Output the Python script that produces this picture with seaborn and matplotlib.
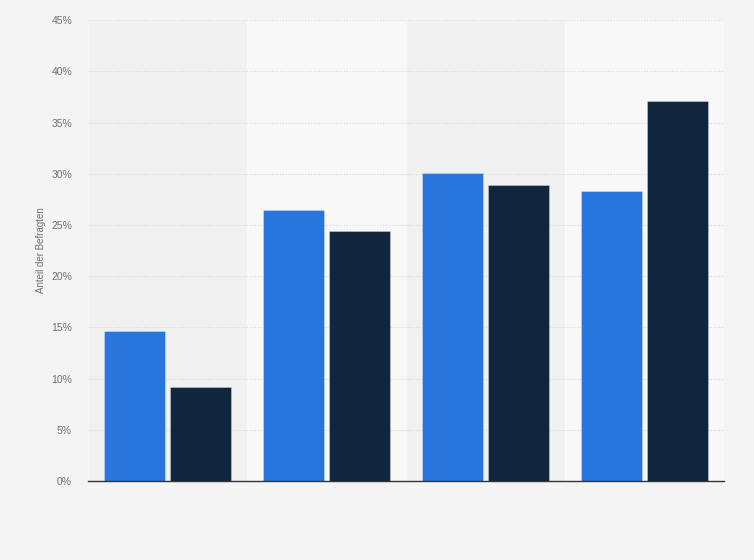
import matplotlib
matplotlib.use("Agg")
import matplotlib.pyplot as plt
import pandas as pd
import seaborn as sns
from matplotlib.ticker import FuncFormatter

# categories are not labelled in the chart
categories = ["Gruppe 1", "Gruppe 2", "Gruppe 3", "Gruppe 4"]
series_names = ["Serie A", "Serie B"]
series_a = [14.6, 26.5, 30.1, 28.3]
series_b = [9.2, 24.4, 28.9, 37.1]
y_ticks = [0, 5, 10, 15, 20, 25, 30, 35, 40, 45]

df = pd.DataFrame({
    "Kategorie": categories * 2,
    "Serie": [series_names[0]] * 4 + [series_names[1]] * 4,
    "Wert": series_a + series_b,
})

sns.set_style("white")
plt.rcParams["font.family"] = ["Liberation Sans", "DejaVu Sans"]

fig = plt.figure(figsize=(7.54, 5.6), dpi=100, facecolor="#f4f4f4")
ax = fig.add_axes([0.1167, 0.1411, 0.8435, 0.8229])
ax.set_facecolor("#f4f4f4")

# alternating background bands
for i in range(len(categories)):
    ax.axvspan(i - 0.5, i + 0.5, color="#f1f1f1" if i % 2 == 0 else "#f8f8f8", zorder=0)

sns.barplot(data=df, x="Kategorie", y="Wert", hue="Serie",
            palette=["#2876dd", "#0f263e"], saturation=1, width=0.83, gap=0.09,
            edgecolor="#ffffff", linewidth=0.6, legend=False, ax=ax, zorder=3)
for p in ax.patches:
    p.set_edgecolor((1, 1, 1, 0.35))

ax.set_xlim(-0.5, len(categories) - 0.5)
ax.set_ylim(0, 45)
ax.set_yticks(y_ticks)
ax.yaxis.set_major_formatter(FuncFormatter(lambda v, _: f"{v:.0f}%"))
ax.grid(axis="y", color="#d6d6d6", linestyle=(0, (1, 1.5)), linewidth=0.8, zorder=1)
ax.set_axisbelow(True)

ax.set_xticks(range(len(categories)))
ax.set_xticklabels([])
ax.tick_params(axis="x", length=0)
ax.tick_params(axis="y", length=0, labelsize=7.5, labelcolor="#707070", pad=11.5)

ax.set_xlabel("")
ax.set_ylabel("Anteil der Befragten", fontsize=7, color="#707070", labelpad=4)

for side in ["top", "right", "left"]:
    ax.spines[side].set_visible(False)
ax.spines["bottom"].set_color("#333333")
ax.spines["bottom"].set_linewidth(1.0)
ax.spines["bottom"].set_zorder(5)

fig.savefig("out.png", dpi=100, facecolor=fig.get_facecolor())
